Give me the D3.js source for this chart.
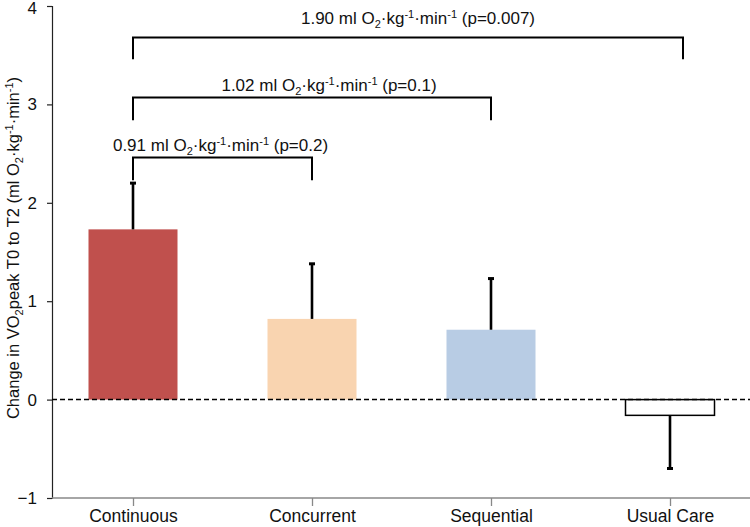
<!DOCTYPE html>
<html><head><meta charset="utf-8">
<script src="https://cdn.jsdelivr.net/npm/d3@7"></script>
<style>body{margin:0;background:#fff}svg{display:block;font-family:"Liberation Sans",Arial,sans-serif}</style>
</head><body><svg id="c" width="750" height="527"></svg>
<script>
const categories = ["Continuous","Concurrent","Sequential","Usual Care"];
const means = [1.73, 0.82, 0.71, -0.16];
const errors = [0.47, 0.56, 0.52, 0.54];
const colors = ["#c0504d","#f9d4b0","#b8cce4","#ffffff"];
const yTicks = [-1,0,1,2,3,4];
const comparisons = [
  {from:"Continuous", to:"Usual Care", top:3.68, bottom:3.46, diff:"1.90", p:"0.007"},
  {from:"Continuous", to:"Sequential", top:3.07, bottom:2.84, diff:"1.02", p:"0.1"},
  {from:"Continuous", to:"Concurrent", top:2.46, bottom:2.23, diff:"0.91", p:"0.2"}
];

// layout tweaks (pixels)
const labelLayout = [{dx:10, gap:13, xEnd:683}, {dx:17, gap:7}, {dx:-2, gap:7}];

const FF = "Liberation Sans, Arial, sans-serif";
const svg = d3.select("#c");
const y = d3.scaleLinear().domain([-1,4]).range([498,6]);
const x = d3.scalePoint().domain(categories).range([133,670]);
const barW = 89;
const axisX = 52;

// y axis
const ya = svg.append("g").attr("transform",`translate(${axisX},0)`)
  .call(d3.axisLeft(y).tickValues(yTicks).tickSize(5).tickPadding(10).tickFormat(d3.format("d")));
ya.selectAll("text").attr("font-size",17).attr("fill","#111").attr("font-family",FF)
  .attr("dy",(d)=> d===4 ? "0.45em" : "0.32em");
ya.selectAll("line,path").attr("stroke","#222").attr("stroke-width",1.2);

// x axis
const xa = svg.append("g").attr("transform",`translate(0,${y(-1)})`)
  .call(d3.axisBottom(x).tickSize(8).tickPadding(4).tickSizeOuter(0));
xa.select(".domain").attr("d",`M${axisX},0H750`).attr("stroke","#888").attr("stroke-width",1.5);
xa.selectAll("line").attr("stroke","#888").attr("stroke-width",1.3);
xa.selectAll("text").attr("font-size",17.5).attr("fill","#111").attr("font-family",FF);

// bars
svg.selectAll("rect.bar").data(categories).enter().append("rect")
  .attr("x",d=>x(d)-barW/2)
  .attr("y",(d,i)=>y(Math.max(0,means[i])))
  .attr("width",barW)
  .attr("height",(d,i)=>Math.abs(y(means[i])-y(0)))
  .attr("fill",(d,i)=>colors[i])
  .attr("stroke",(d,i)=>means[i]<0?"#000":"none")
  .attr("stroke-width",1.5);

// error bars
categories.forEach((c,i)=>{
  const v0 = means[i], v1 = means[i] + Math.sign(means[i])*errors[i];
  svg.append("line").attr("x1",x(c)).attr("x2",x(c)).attr("y1",y(v0)).attr("y2",y(v1))
    .attr("stroke","#000").attr("stroke-width",2.6);
  svg.append("line").attr("x1",x(c)-3).attr("x2",x(c)+3).attr("y1",y(v1)).attr("y2",y(v1))
    .attr("stroke","#000").attr("stroke-width",3);
});

// zero line
svg.append("line").attr("x1",axisX).attr("x2",750).attr("y1",y(0)).attr("y2",y(0))
  .attr("stroke","#000").attr("stroke-width",1.5).attr("stroke-dasharray","5,3");

// brackets
function label(g, cx, cy, diff, p){
  const t = g.append("text").attr("x",cx).attr("y",cy).attr("text-anchor","middle")
    .attr("font-size",17).attr("fill","#111");
  t.append("tspan").text(diff+" ml O");
  t.append("tspan").attr("font-size",11).attr("dy",4).text("2");
  t.append("tspan").attr("dy",-4).text("·kg");
  t.append("tspan").attr("font-size",11).attr("dy",-6).text("-1");
  t.append("tspan").attr("dy",6).text("·min");
  t.append("tspan").attr("font-size",11).attr("dy",-6).text("-1");
  t.append("tspan").attr("dy",6).text(" (p="+p+")");
}
comparisons.forEach((cmp,k)=>{
  const L = labelLayout[k];
  const x1 = x(cmp.from), x2 = L.xEnd || x(cmp.to);
  svg.append("path")
    .attr("d",`M${x1},${y(cmp.bottom)}V${y(cmp.top)}H${x2}V${y(cmp.bottom)}`)
    .attr("fill","none").attr("stroke","#000").attr("stroke-width",2);
  label(svg, (x1+x2)/2 + L.dx, y(cmp.top)-L.gap, cmp.diff, cmp.p);
});

// y label
const yl = svg.append("text").attr("transform","translate(19,248) rotate(-90)")
  .attr("text-anchor","middle").attr("font-size",16.5).attr("fill","#111");
yl.append("tspan").text("Change in VO");
yl.append("tspan").attr("font-size",11).attr("dy",4).text("2");
yl.append("tspan").attr("dy",-4).text("peak T0 to T2 (ml O");
yl.append("tspan").attr("font-size",11).attr("dy",4).text("2");
yl.append("tspan").attr("dy",-4).text("·kg");
yl.append("tspan").attr("font-size",11).attr("dy",-6).text("-1");
yl.append("tspan").attr("dy",6).text("·min");
yl.append("tspan").attr("font-size",11).attr("dy",-6).text("-1");
yl.append("tspan").attr("dy",6).text(")");
</script></body></html>
